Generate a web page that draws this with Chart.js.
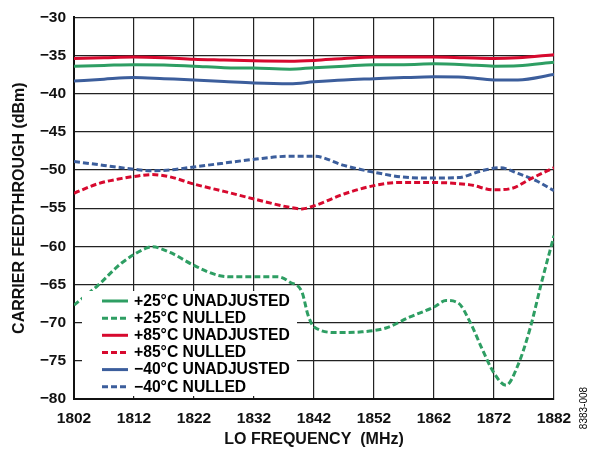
<!DOCTYPE html>
<html>
<head>
<meta charset="utf-8">
<script src="https://cdn.jsdelivr.net/npm/chart.js@4.4.1/dist/chart.umd.min.js"></script>
<style>
  html, body { margin: 0; padding: 0; background: #fff; }
  #wrap { width: 596px; height: 450px; }
</style>
</head>
<body>
<div id="wrap"><canvas id="chart" width="596" height="450"></canvas></div>
<script>
// frequency ticks (MHz) and y range (dBm)
const freqTicks = [1802, 1812, 1822, 1832, 1842, 1852, 1862, 1872, 1882];
const yMin = -80;
const yMax = -30;

// unadjusted curves share one set of frequencies
const freqUnadj = [1802, 1807, 1812, 1817, 1822, 1827, 1832, 1838, 1842, 1847, 1852, 1857, 1862, 1867, 1872, 1876, 1882];
const unadj85 = [-35.4, -35.3, -35.2, -35.3, -35.5, -35.6, -35.7, -35.75, -35.65, -35.4, -35.2, -35.2, -35.2, -35.3, -35.4, -35.3, -34.9];
const unadj25 = [-36.4, -36.3, -36.2, -36.25, -36.4, -36.6, -36.65, -36.8, -36.6, -36.4, -36.2, -36.2, -36.1, -36.2, -36.4, -36.35, -35.9];
const unadjM40 = [-38.35, -38.1, -37.9, -38.05, -38.2, -38.4, -38.6, -38.7, -38.45, -38.2, -38.05, -37.9, -37.8, -37.85, -38.2, -38.2, -37.5];

// nulled curves
const freqNullM40 = [1802, 1807, 1812, 1815, 1818, 1822, 1827, 1832, 1838, 1842, 1847, 1852, 1858, 1862, 1866, 1870, 1873, 1876, 1879, 1882];
const nullM40 = [-48.9, -49.4, -49.9, -50.1, -50.0, -49.6, -49.1, -48.6, -48.2, -48.2, -49.4, -50.3, -51.0, -51.05, -51.0, -50.1, -49.7, -50.45, -51.4, -52.7];

const freqNull85 = [1802, 1806, 1810, 1812, 1815, 1818, 1822, 1827, 1832, 1838, 1840, 1842, 1847, 1852, 1856, 1862, 1868, 1872, 1875, 1878, 1882];
const null85 = [-53.05, -51.8, -51.1, -50.85, -50.6, -50.9, -51.85, -52.8, -53.8, -54.9, -55.1, -54.7, -53.15, -52.05, -51.65, -51.65, -51.95, -52.6, -52.4, -51.2, -49.7];

const freqNull25 = [1802, 1806, 1810, 1814, 1815, 1818, 1822, 1826, 1829, 1832, 1836, 1838, 1840, 1841, 1842, 1846, 1850, 1854, 1858, 1862, 1864, 1866, 1868, 1870, 1872, 1874, 1876, 1878, 1880, 1882];
const null25 = [-67.7, -65.1, -62.15, -60.25, -60.07, -60.8, -62.5, -63.8, -64.0, -64.0, -64.0, -64.7, -66.0, -69.0, -70.55, -71.3, -71.2, -70.7, -69.25, -67.95, -67.1, -67.4, -69.9, -73.4, -76.6, -78.2, -75.55, -70.8, -64.5, -58.6];

const GREEN = '#2e9e63';
const RED = '#d7092e';
const BLUE = '#3c5e9c';
const FONT = '"Liberation Sans", Arial, Helvetica, sans-serif';
const DASH = [6, 3];

function pts(xs, ys) {
  return xs.map((x, i) => ({ x: x, y: ys[i] }));
}

function series(label, xs, ys, color, dashed) {
  return {
    label: label,
    data: pts(xs, ys),
    borderColor: color,
    backgroundColor: color,
    borderWidth: 3,
    borderDash: dashed ? DASH : [],
    pointRadius: 0,
    cubicInterpolationMode: 'monotone',
    fill: false,
  };
}

function minus(v) {
  return v < 0 ? '\u2212' + Math.abs(v) : String(v);
}

// legend drawn inside the plot, lower left, on a white box
const insideLegend = {
  id: 'insideLegend',
  afterDraw(chart) {
    const c = chart.ctx;
    c.save();
    c.fillStyle = '#fff';
    c.fillRect(82, 291, 215, 105);
    c.font = 'bold 15.7px ' + FONT;
    c.textBaseline = 'middle';
    c.textAlign = 'left';
    chart.data.datasets.forEach((ds, i) => {
      const y = 301 + i * 17.15;
      c.strokeStyle = ds.borderColor;
      c.lineWidth = 3;
      c.setLineDash(ds.borderDash);
      c.beginPath();
      c.moveTo(102, y);
      c.lineTo(128, y);
      c.stroke();
      c.setLineDash([]);
      c.fillStyle = '#000';
      c.fillText(ds.label, 134, y + 0.5);
    });
    // figure code at the right edge
    c.translate(584, 408);
    c.rotate(-Math.PI / 2);
    c.font = '10px ' + FONT;
    c.textAlign = 'center';
    c.fillText('8383-008', 0, 0);
    c.restore();
  }
};

const ctx = document.getElementById('chart').getContext('2d');

new Chart(ctx, {
  type: 'line',
  data: {
    datasets: [
      series('+25°C UNADJUSTED', freqUnadj, unadj25, GREEN, false),
      series('+25°C NULLED', freqNull25, null25, GREEN, true),
      series('+85°C UNADJUSTED', freqUnadj, unadj85, RED, false),
      series('+85°C NULLED', freqNull85, null85, RED, true),
      series('\u221240°C UNADJUSTED', freqUnadj, unadjM40, BLUE, false),
      series('\u221240°C NULLED', freqNullM40, nullM40, BLUE, true),
    ],
  },
  options: {
    responsive: false,
    animation: false,
    layout: { padding: { top: 16, right: 42, left: 0, bottom: 0 } },
    plugins: {
      legend: { display: false },
      tooltip: { enabled: false },
    },
    scales: {
      x: {
        type: 'linear',
        min: freqTicks[0],
        max: freqTicks[freqTicks.length - 1],
        afterBuildTicks: (scale) => {
          scale.ticks = freqTicks.map(v => ({ value: v }));
        },
        afterFit: (scale) => { scale.height = 51; },
        grid: { color: '#222', lineWidth: 1.2, drawTicks: false },
        border: { color: '#111', width: 2 },
        ticks: {
          color: '#111',
          padding: 10,
          maxRotation: 0,
          font: { family: FONT, size: 15.5, weight: 'bold' },
          callback: (v) => String(v),
        },
        title: {
          display: true,
          text: 'LO FREQUENCY  (MHz)',
          color: '#111',
          padding: { top: 0, bottom: 2 },
          font: { family: FONT, size: 16, weight: 'bold', lineHeight: 1 },
        },
      },
      y: {
        min: yMin,
        max: yMax,
        afterFit: (scale) => { scale.width = 74; },
        grid: { color: '#222', lineWidth: 1.2, drawTicks: false },
        border: { color: '#111', width: 2 },
        ticks: {
          stepSize: 5,
          color: '#111',
          padding: 8,
          font: { family: FONT, size: 15.5, weight: 'bold' },
          callback: (v) => minus(v),
        },
        title: {
          display: true,
          text: 'CARRIER FEEDTHROUGH (dBm)',
          color: '#111',
          padding: { top: 12, bottom: 0 },
          font: { family: FONT, size: 16, weight: 'bold', lineHeight: 1 },
        },
      },
    },
  },
  plugins: [insideLegend],
});
</script>
</body>
</html>
